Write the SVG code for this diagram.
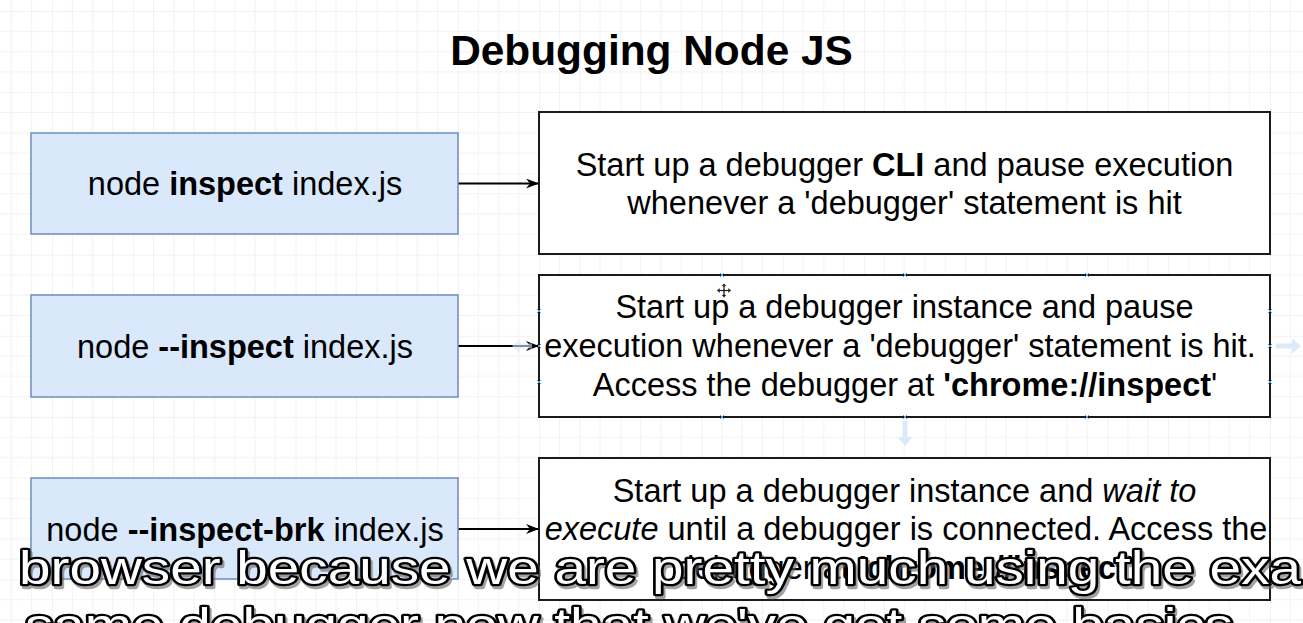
<svg xmlns="http://www.w3.org/2000/svg" width="1303" height="623" viewBox="0 0 1303 623">
<style>
.t{font-family:"Liberation Sans",Arial,sans-serif;font-size:32.5px;fill:#000;}
.b{font-weight:bold;}
.i{font-style:italic;}
.cmd{fill:#dae8fc;stroke:#6c8ebf;stroke-width:1.5;}
.desc{fill:#fff;stroke:#1a1a1a;stroke-width:2;}
.edge{fill:none;stroke:#000;stroke-width:2;}
.hdl{stroke:#5aa0e0;stroke-width:1;fill:none;}
.hint{fill:#dbeafb;stroke:none;}
.sub{font-family:"Liberation Sans",Arial,sans-serif;font-size:46px;fill:#fff;stroke:#000;stroke-width:4.5;stroke-linejoin:round;paint-order:stroke;}
.subsh{font-family:"Liberation Sans",Arial,sans-serif;font-size:46px;fill:#666;stroke:#666;stroke-width:4.5;stroke-linejoin:round;opacity:0.6;}
</style>
<defs>
<pattern id="grid" patternUnits="userSpaceOnUse" x="52" y="11" width="81.2" height="81.2">
<path d="M20.3 0V81.2M40.6 0V81.2M60.9 0V81.2M0 20.3H81.2M0 40.6H81.2M0 60.9H81.2" stroke="#f2f2f2" stroke-width="1" fill="none"/>
<path d="M0 0V81.2M0 0H81.2" stroke="#e6e6e6" stroke-width="1" fill="none"/>
</pattern>
<marker id="arr" viewBox="0 0 14 10" refX="13" refY="5" markerWidth="14" markerHeight="10" markerUnits="userSpaceOnUse" orient="auto">
<path d="M0 0L13 5L0 10L4 5Z" fill="#000"/>
</marker>
</defs>
<rect width="1303" height="623" fill="#fff"/>
<rect width="1303" height="623" fill="url(#grid)"/>

<g id="title">
<text x="651.5" y="65" text-anchor="middle" style="font-family:'Liberation Sans',Arial,sans-serif;font-size:42.4px;font-weight:bold;">Debugging Node JS</text>
</g>

<g id="connectors">
<line class="edge" x1="458" y1="183.5" x2="539" y2="183.5" marker-end="url(#arr)"/>
<line class="edge" x1="458" y1="346" x2="539" y2="346" marker-end="url(#arr)"/>
<line class="edge" x1="458" y1="529" x2="539" y2="529" marker-end="url(#arr)"/>
</g>

<g id="cmd1">
<rect class="cmd" x="31" y="133" width="427" height="101"/>
<text class="t" x="245" y="195" text-anchor="middle">node <tspan class="b">inspect</tspan> index.js</text>
</g>
<g id="cmd2">
<rect class="cmd" x="31" y="295" width="427" height="102"/>
<text class="t" x="245" y="357.5" text-anchor="middle">node <tspan class="b">--inspect</tspan> index.js</text>
</g>
<g id="cmd3">
<rect class="cmd" x="31" y="478" width="427" height="101"/>
<text class="t" x="245" y="540.5" text-anchor="middle">node <tspan class="b">--inspect-brk</tspan> index.js</text>
</g>

<g id="desc1">
<rect class="desc" x="539" y="112" width="731" height="142"/>
<text class="t" x="904.5" y="176" text-anchor="middle">Start up a debugger <tspan class="b">CLI</tspan> and pause execution</text>
<text class="t" x="904.5" y="214" text-anchor="middle">whenever a 'debugger' statement is hit</text>
</g>

<g id="desc2">
<rect class="desc" x="539" y="275" width="731" height="142"/>
<text class="t" x="904.5" y="318" text-anchor="middle">Start up a debugger instance and pause</text>
<text class="t" x="900" y="357" text-anchor="middle">execution whenever a 'debugger' statement is hit.</text>
<text class="t" x="905" y="396" text-anchor="middle">Access the debugger at <tspan class="b">'chrome://inspect</tspan>'</text>
</g>

<g id="hover-handles">
<path class="hdl" d="M720 273l4 4M724 273l-4 4M903 273l4 4M907 273l-4 4M1085 273l4 4M1089 273l-4 4M720 415l4 4M724 415l-4 4M903 415l4 4M907 415l-4 4M1085 415l4 4M1089 415l-4 4M537 309l4 4M541 309l-4 4M537 344l4 4M541 344l-4 4M537 380l4 4M541 380l-4 4M1268 309l4 4M1272 309l-4 4M1268 344l4 4M1272 344l-4 4M1268 380l4 4M1272 380l-4 4"/>
<path class="hint" d="M1276 343.5h16v-5l9 7.5l-9 7.5v-5h-16z"/>
<path class="hint" d="M902.5 421v16h-5l7.5 9l7.5-9h-5v-16z"/>
<path class="hint" d="M532 343.5h-12v-5l-8 7.5l8 7.5v-5h12z" opacity="0.6"/>
<path d="M724 283l-3 3.5h2v3h-3v-2l-3.5 3l3.5 3v-2h3v3h-2l3 3.5l3-3.5h-2v-3h3v2l3.5-3l-3.5-3v2h-3v-3h2z" fill="#222" stroke="#fff" stroke-width="0.8"/>
</g>

<g id="desc3">
<rect class="desc" x="539" y="458" width="731" height="142"/>
<text class="t" x="904.5" y="502" text-anchor="middle">Start up a debugger instance and <tspan class="i">wait to</tspan></text>
<text class="t" x="906" y="540" text-anchor="middle"><tspan class="i">execute</tspan> until a debugger is connected. Access the</text>
<text class="t" x="904.5" y="579" text-anchor="middle">debugger at <tspan class="b">'chrome://inspect</tspan>'</text>
</g>

<g id="subtitles">
<text class="subsh" x="21" y="587" textLength="1282" lengthAdjust="spacingAndGlyphs">browser because we are pretty much using the exa</text>
<text class="sub" x="19" y="584" textLength="1282" lengthAdjust="spacingAndGlyphs">browser because we are pretty much using the exa</text>
<text class="subsh" x="27" y="644" textLength="1208" lengthAdjust="spacingAndGlyphs">same debugger now that we've got some basics</text>
<text class="sub" x="25" y="641" textLength="1208" lengthAdjust="spacingAndGlyphs">same debugger now that we've got some basics</text>
</g>
</svg>
